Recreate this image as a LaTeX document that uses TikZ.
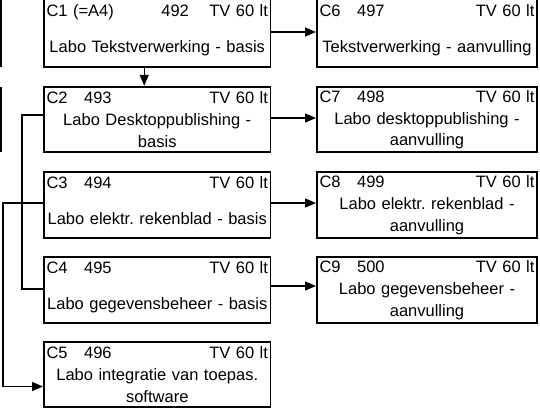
\documentclass[tikz,border=0pt]{standalone}
\usepackage{fontspec}
\setmainfont{Liberation Sans}
\usetikzlibrary{arrows.meta}
\frenchspacing
\newcommand{\boxhead}[2]{\makebox[\hsize]{#1\hfill #2}}
\newcommand{\lowstrut}{\rule[-9pt]{0pt}{9pt}}

\begin{document}
\begin{tikzpicture}[
  x=1pt, y=-1pt,
  cbox/.style={draw, line width=1.9pt, inner xsep=2.5pt, inner ysep=0pt, align=center, font=\fontsize{16.5}{21.5}\selectfont\frenchspacing},
  lbox/.style={cbox, minimum width=226.5pt, text width=221.5pt, minimum height=65.5pt},
  rbox/.style={cbox, minimum width=220pt, text width=215pt, minimum height=65.5pt},
  link/.style={line width=1.2pt},
  arr/.style={link, -{Triangle[length=11pt,width=9pt]}}
]
  \useasboundingbox (0,0) rectangle (540,414);

  % left column
  \node[lbox, minimum height=68pt] (c1) at (157.25,33) {
    \boxhead{C1 (=A4)\hspace{47.5pt}492}{TV 60 lt}\\[14pt]
    Labo Tekstverwerking - basis\lowstrut
  };
  \node[lbox] (c2) at (157.25,119.5) {
    \boxhead{C2\quad 493}{TV 60 lt}\\[0.5pt]
    Labo Desktoppublishing -\\
    basis
  };
  \node[lbox] (c3) at (157.25,205) {
    \boxhead{C3\quad 494}{TV 60 lt}\\[14pt]
    Labo elektr. rekenblad - basis\lowstrut
  };
  \node[lbox] (c4) at (157.25,290) {
    \boxhead{C4\quad 495}{TV 60 lt}\\[14pt]
    Labo gegevensbeheer - basis\lowstrut
  };
  \node[lbox] (c5) at (157.25,374.5) {
    \boxhead{C5\quad 496}{TV 60 lt}\\[0.5pt]
    Labo integratie van toepas.\\
    software
  };

  % right column
  \node[rbox, minimum height=68pt] (c6) at (427,33) {
    \boxhead{C6\quad 497}{TV 60 lt}\\[14pt]
    Tekstverwerking - aanvulling\lowstrut
  };
  \node[rbox] (c7) at (427,119.5) {
    \boxhead{C7\quad 498}{TV 60 lt}\\[0.5pt]
    Labo desktoppublishing -\\
    aanvulling
  };
  \node[rbox] (c8) at (427,205) {
    \boxhead{C8\quad 499}{TV 60 lt}\\[0.5pt]
    Labo elektr. rekenblad -\\
    aanvulling
  };
  \node[rbox] (c9) at (427,290) {
    \boxhead{C9\quad 500}{TV 60 lt}\\[0.5pt]
    Labo gegevensbeheer -\\
    aanvulling
  };

  % edges of boxes cut off on the left
  \draw[line width=1.2pt] (1,0) -- (1,67);
  \draw[line width=1.2pt] (1,87) -- (1,152);

  % connectors
  \draw[arr] ([xshift=-13pt]c1.south) -- ([xshift=-13pt]c2.north);
  \draw[arr] ([yshift=1pt]c1.east) -- ([yshift=1pt]c6.west);
  \draw[arr] ([yshift=1.5pt]c2.east) -- ([yshift=1.5pt]c7.west);
  \draw[arr] ([yshift=2pt]c3.east) -- ([yshift=2pt]c8.west);
  \draw[arr] ([yshift=4pt]c4.east) -- ([yshift=4pt]c9.west);
  \draw[link] ([yshift=4.5pt]c2.west) -- ++(-21,0) |- ([yshift=1pt]c4.west);
  \draw[arr] ([yshift=2pt]c3.west) -- ++(-40,0) |- ([yshift=-12pt]c5.west);
\end{tikzpicture}
\end{document}
